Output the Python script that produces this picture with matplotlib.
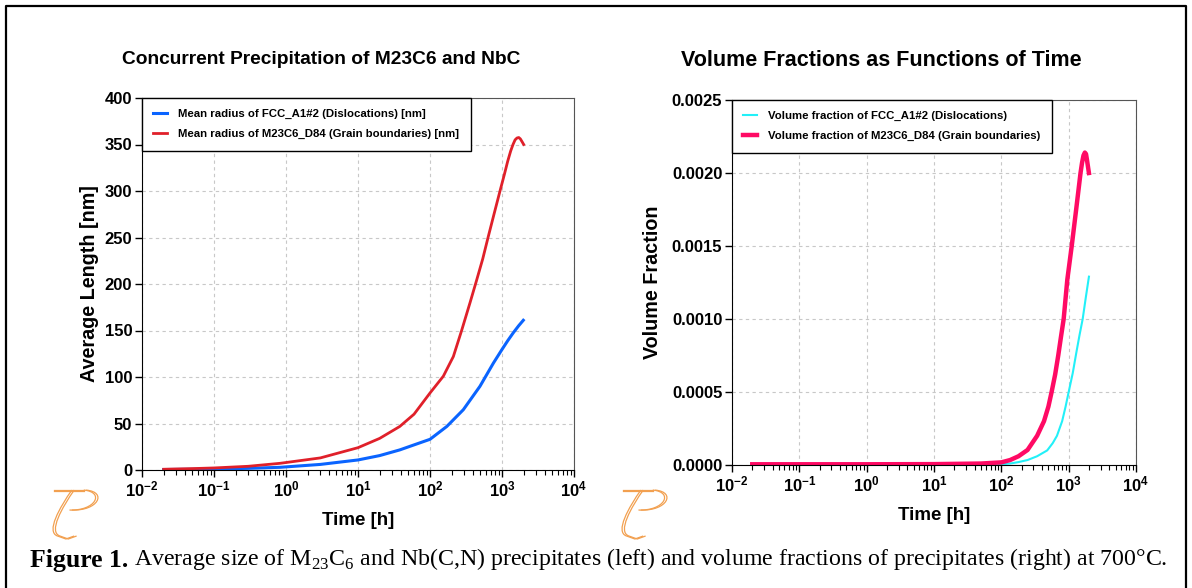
import math
import matplotlib
matplotlib.use("Agg")
import matplotlib.pyplot as plt
from matplotlib.ticker import LogLocator, FixedLocator, FuncFormatter, NullFormatter
from matplotlib.path import Path
from matplotlib.patches import PathPatch
from matplotlib.lines import Line2D

plt.rcParams['font.family'] = ['Liberation Sans', 'DejaVu Sans']
plt.rcParams['mathtext.fontset'] = 'custom'
plt.rcParams['mathtext.rm'] = 'Liberation Serif'
plt.rcParams['mathtext.bf'] = 'Liberation Sans:bold'

# left panel: mean radius [nm] vs time [h]
time_fcc = [0.02, 0.1, 0.3, 0.83, 3, 10, 20, 38, 60, 100, 171, 290, 494, 760, 1000, 1200,
            1436, 1700, 1977]
radius_fcc = [0.5, 1.0, 1.8, 2.9, 6, 10.8, 15.5, 21.6, 27, 33, 46.8, 64.8, 90, 115, 129.6, 139,
              147.6, 155, 161]
time_m23 = [0.02, 0.05, 0.1, 0.3, 0.83, 3, 10, 20, 38, 60, 100, 153, 211, 275, 360, 440,
            540, 640, 780, 938, 1080, 1200, 1320, 1422, 1520, 1616, 1710, 1800, 1900, 2000]
radius_m23 = [0.8, 1.5, 2.2, 4.0, 7.2, 13, 24, 34, 46.8, 60, 82.8, 100.8, 122, 150, 180, 203,
              227, 250, 276, 300, 318, 332, 343, 350, 355, 357, 357.5, 356, 353, 350]

# right panel: volume fraction vs time [h]
time_vf_fcc = [0.02, 10, 100, 135, 180, 245, 340, 480, 580, 670, 800, 900, 1000, 1150, 1300,
               1450, 1615, 1800, 2000]
vf_fcc = [0.000003, 0.000003, 0.000005, 0.00001, 0.00002, 0.000034, 0.00006, 0.0001, 0.00015,
          0.0002, 0.0003, 0.0004, 0.0005, 0.00063, 0.00077, 0.00089, 0.0010, 0.00115, 0.00129]
time_vf_m23 = [0.02, 1, 10, 50, 100, 135, 180, 245, 340, 430, 500, 558, 630, 700, 770, 843,
               955, 1110, 1300, 1500, 1580, 1660, 1740, 1810, 1870, 1940, 2000]
vf_m23 = [0.000005, 0.000005, 0.000006, 0.00001, 0.000018, 0.000034, 0.00006, 0.000103,
          0.0002, 0.0003, 0.0004, 0.0005, 0.00062, 0.00075, 0.00088, 0.0010, 0.00127, 0.0015,
          0.00176, 0.0020, 0.00207, 0.00212, 0.00214, 0.00213, 0.00209, 0.00204, 0.0020]

x_ticks = [1e-2, 1e-1, 1e0, 1e1, 1e2, 1e3, 1e4]
radius_ticks = [0, 50, 100, 150, 200, 250, 300, 350, 400]
vf_ticks = [0.0, 0.0005, 0.0010, 0.0015, 0.0020, 0.0025]


def style_axes(ax, yticks, yfmt):
    ax.set_xscale('log')
    ax.set_xlim(1e-2, 1e4)
    ax.xaxis.set_major_locator(FixedLocator(x_ticks))
    ax.xaxis.set_minor_locator(LogLocator(base=10, subs=range(2, 10), numticks=20))
    ax.xaxis.set_minor_formatter(NullFormatter())
    ax.xaxis.set_major_formatter(FuncFormatter(
        lambda v, p: r'$\mathbf{10^{%d}}$' % int(round(math.log10(v)))))
    ax.set_yticks(yticks)
    ax.yaxis.set_major_formatter(FuncFormatter(yfmt))
    ax.set_ylim(yticks[0], yticks[-1])
    ax.tick_params(axis='both', which='major', direction='out', length=5, width=1,
                   labelsize=12, pad=2, top=False, right=False)
    ax.tick_params(axis='x', which='minor', direction='out', length=3.5, width=0.8,
                   top=False)
    for lab in ax.get_yticklabels():
        lab.set_fontweight('bold')
    ax.grid(True, which='major', color='#c8c8c8', linestyle=(0, (3, 3)), linewidth=0.8)
    for s in ['top', 'right']:
        ax.spines[s].set_color('#555555')
    for s in ['left', 'bottom']:
        ax.spines[s].set_color('black')


def add_legend(ax):
    leg = ax.legend(loc='upper left', prop={'weight': 'bold', 'size': 8.2}, fancybox=False,
                    edgecolor='black', framealpha=1, borderaxespad=0, handlelength=1.2,
                    borderpad=1.0, labelspacing=0.85, handletextpad=1.0)
    leg.get_frame().set_linewidth(1)


def draw_logo(fig, x0, y0):
    # small orange script mark below each panel
    ax = fig.add_axes([x0, y0, 0.045, 0.09])
    ax.set_xlim(0, 45)
    ax.set_ylim(53, 0)
    ax.axis('off')
    c = '#f2a050'
    for d in (0, 2):
        ax.plot([5, 30], [3 + d * 0.3, 3 + d * 0.3], color=c, lw=0.9)
        p = Path([(30 + d, 3), (48 + d, 5), (40 + d, 24), (18 + d, 23)],
                 [Path.MOVETO, Path.CURVE4, Path.CURVE4, Path.CURVE4])
        ax.add_patch(PathPatch(p, fill=False, edgecolor=c, lw=0.9))
        p2 = Path([(20 + d, 3), (10 + d, 20), (-2 + d, 45), (8 + d, 49), (15 + d, 52), (22 + d, 49)],
                  [Path.MOVETO, Path.CURVE4, Path.CURVE4, Path.CURVE4, Path.LINETO, Path.LINETO])
        ax.add_patch(PathPatch(p2, fill=False, edgecolor=c, lw=0.9))


fig = plt.figure(figsize=(11.92, 5.88), dpi=100)

ax1 = fig.add_axes([142 / 1192, 1 - 470 / 588, 432 / 1192, 372 / 588])
ax1.plot(time_fcc, radius_fcc, color='#0a64ff', lw=2.2,
         label='Mean radius of FCC_A1#2 (Dislocations) [nm]')
ax1.plot(time_m23, radius_m23, color='#e0202a', lw=2.0,
         label='Mean radius of M23C6_D84 (Grain boundaries) [nm]')
style_axes(ax1, radius_ticks, lambda v, p: '%d' % v)
ax1.set_xlabel('Time [h]', fontsize=13.5, fontweight='bold', labelpad=9)
ax1.set_ylabel('Average Length [nm]', fontsize=14.2, fontweight='bold', labelpad=4)
add_legend(ax1)

ax2 = fig.add_axes([732 / 1192, 1 - 465 / 588, 404 / 1192, 365 / 588])
ax2.plot(time_vf_fcc, vf_fcc, color='#22f0f8', lw=1.5,
         label='Volume fraction of FCC_A1#2 (Dislocations)')
ax2.plot(time_vf_m23, vf_m23, color='#ff0a64', lw=3.2,
         label='Volume fraction of M23C6_D84 (Grain boundaries)')
style_axes(ax2, vf_ticks, lambda v, p: '%.4f' % v)
ax2.set_xlabel('Time [h]', fontsize=13.5, fontweight='bold', labelpad=9)
ax2.set_ylabel('Volume Fraction', fontsize=14.2, fontweight='bold', labelpad=7)
add_legend(ax2)

fig.text(321 / 1192, 1 - 60 / 588, 'Concurrent Precipitation of M23C6 and NbC',
         ha='center', va='center', fontsize=13.8, fontweight='bold')
fig.text(881 / 1192, 1 - 61 / 588, 'Volume Fractions as Functions of Time',
         ha='center', va='center', fontsize=15.5, fontweight='bold')

draw_logo(fig, 48 / 1192, 1 - 540 / 588)
draw_logo(fig, 617 / 1192, 1 - 540 / 588)

cap1 = fig.text(30 / 1192, 1 - 572 / 588, 'Figure 1.', ha='left', va='bottom',
                fontsize=18.5, fontweight='bold', family='Liberation Serif')
ax1.annotate('Average size of M$_{23}$C$_{6}$ and Nb(C,N) precipitates (left) and volume '
             'fractions of precipitates (right) at 700°C.',
             xy=(1, 0), xycoords=cap1, xytext=(4, 0), textcoords='offset points',
             ha='left', va='bottom', fontsize=17.2,
             family='Liberation Serif', annotation_clip=False)

# border around the figure
fig.add_artist(Line2D([6 / 1192, 6 / 1192, 1186 / 1192, 1186 / 1192],
                      [0, 1 - 6 / 588, 1 - 6 / 588, 0], color='black', lw=1.6,
                      transform=fig.transFigure))

fig.savefig('out.png', dpi=100)
